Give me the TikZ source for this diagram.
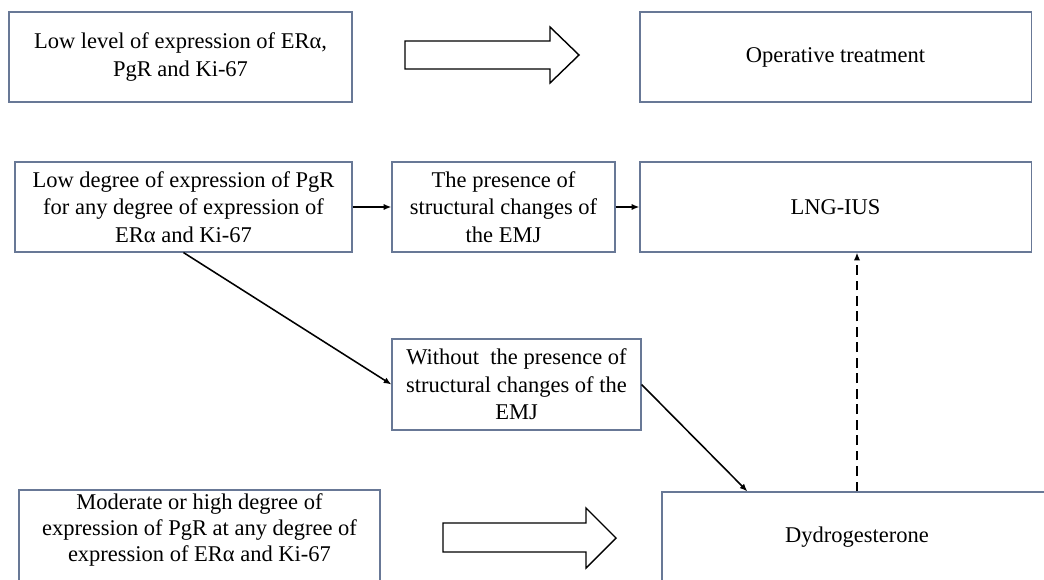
\documentclass[tikz,border=0pt]{standalone}
\usepackage{fontspec}
\setmainfont{Liberation Serif}
\usetikzlibrary{arrows.meta,calc}
\definecolor{boxcol}{RGB}{104,120,150}
\tikzset{
  box/.style={draw=boxcol, line width=0.8pt, rectangle, align=center, inner sep=2pt},
  link/.style={line width=1.1pt, ->},
  bigarrow/.style={draw=black, fill=white, line width=1pt, line join=miter}
}
\begin{document}
\begin{tikzpicture}[x=0.025cm, y=-0.025cm, font=\fontsize{16}{19.5}\selectfont,
  >={Latex[length=5.5pt,width=4.5pt]}]
  \useasboundingbox (0,0) rectangle (1044,579);

  % ---- horni rada ----
  \node[box, minimum width=8.575cm, minimum height=2.25cm] (lowall) at (180.5,57)
    {Low level of expression of ERα,\\ PgR and Ki-67};
  \node[box, minimum width=9.775cm, minimum height=2.25cm] (oper) at (835.5,57)
    {Operative treatment};
  \draw[bigarrow] (405,41) -- (550,41) -- (550,27) -- (579,55) -- (550,83)
    -- (550,69) -- (405,69) -- cycle;

  % ---- stredni rada ----
  \node[box, minimum width=8.425cm, minimum height=2.25cm] (lowpgr) at (183.5,207)
    {Low degree of expression of PgR\\ for any degree of expression of\\ ERα and Ki-67};
  \node[box, minimum width=5.575cm, minimum height=2.25cm] (pres) at (503.5,207)
    {The presence of\\ structural changes of\\ the EMJ};
  \node[box, minimum width=9.775cm, minimum height=2.25cm] (lng) at (835.5,207)
    {LNG-IUS};
  \node[box, minimum width=6.225cm, minimum height=2.275cm] (nopres) at (516.5,384.5)
    {Without\ \ the presence of\\ structural changes of the\\ EMJ};

  % ---- dolni rada ----
  \node[box, minimum width=9.025cm, minimum height=2.5cm] (modhigh) at (199.5,540) {};
  \node[align=center, inner sep=0pt, font=\fontsize{16}{18.5}\selectfont] (modtext) at (199.5,530)
    {Moderate or high degree of\\ expression of PgR at any degree of\\ expression of ERα and Ki-67};
  \node[box, minimum width=9.75cm, minimum height=2.25cm] (dydro) at (857,537)
    {Dydrogesterone};
  \draw[bigarrow] (443,523) -- (586,523) -- (586,508) -- (616,538) -- (586,568)
    -- (586,552) -- (443,552) -- cycle;

  % ---- sipky ----
  \draw[link] (lowpgr) -- (pres);
  \draw[link] (pres) -- (lng);
  \draw[link] (lowpgr.south) -- (nopres.west);
  \draw[link] (nopres.east) -- ($(dydro.north west)+(86,0)$);
  \draw[link, dashed, dash pattern=on 7pt off 4pt] (dydro.north) -- (dydro.north |- lng.south);
\end{tikzpicture}
\end{document}
